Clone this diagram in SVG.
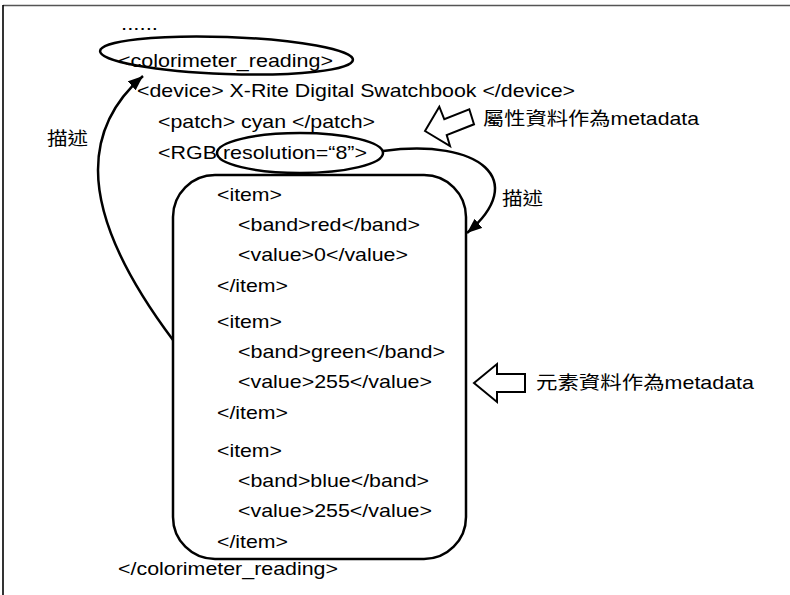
<svg xmlns="http://www.w3.org/2000/svg" width="790" height="595" viewBox="0 0 790 595">
  <style>
    .t { font-family: "Liberation Sans", "Noto Sans CJK TC", Arial, sans-serif; font-size: 18.5px; fill: #000; }
    .cjk { font-family: "Noto Sans CJK TC", "Liberation Sans", sans-serif; font-size: 18.5px; fill: #000; }
    .ln { fill: none; stroke: #000; stroke-width: 2.5; }
    .hol { fill: #fff; stroke: #000; stroke-width: 2; stroke-linejoin: miter; }
  </style>
  <defs>
    <marker id="ah" markerUnits="userSpaceOnUse" markerWidth="16" markerHeight="12" refX="15" refY="6" orient="auto">
      <path d="M0,0 L15,6 L0,12 z" fill="#000"/>
    </marker>
  </defs>
  <rect width="790" height="595" fill="#fff"/>
  <g id="frame">
    <line x1="3" y1="5.5" x2="790" y2="5.5" stroke="#555" stroke-width="1.6"/>
    <line x1="3" y1="5" x2="3" y2="595" stroke="#000" stroke-width="1.6"/>
  </g>

  <g id="xml-text">
    <text class="t" x="121" y="30" textLength="37" lengthAdjust="spacingAndGlyphs">......</text>
    <text class="t" x="118" y="67" textLength="215" lengthAdjust="spacingAndGlyphs">&lt;colorimeter_reading&gt;</text>
    <text class="t" x="137" y="97" textLength="438" lengthAdjust="spacingAndGlyphs">&lt;device&gt; X-Rite Digital Swatchbook &lt;/device&gt;</text>
    <text class="t" x="158" y="128" textLength="217" lengthAdjust="spacingAndGlyphs">&lt;patch&gt; cyan &lt;/patch&gt;</text>
    <text class="t" x="158" y="159" textLength="209" lengthAdjust="spacingAndGlyphs">&lt;RGB resolution=“8”&gt;</text>
    <text class="t" x="118" y="575" textLength="220" lengthAdjust="spacingAndGlyphs">&lt;/colorimeter_reading&gt;</text>
  </g>

  <g id="items-box">
    <rect x="173" y="175" width="293" height="384" rx="42" ry="42" class="ln"/>
    <text class="t" x="217" y="201" textLength="65" lengthAdjust="spacingAndGlyphs">&lt;item&gt;</text>
    <text class="t" x="238" y="231" textLength="182" lengthAdjust="spacingAndGlyphs">&lt;band&gt;red&lt;/band&gt;</text>
    <text class="t" x="238" y="261" textLength="170" lengthAdjust="spacingAndGlyphs">&lt;value&gt;0&lt;/value&gt;</text>
    <text class="t" x="217" y="292" textLength="71" lengthAdjust="spacingAndGlyphs">&lt;/item&gt;</text>
    <text class="t" x="217" y="328" textLength="65" lengthAdjust="spacingAndGlyphs">&lt;item&gt;</text>
    <text class="t" x="238" y="358" textLength="207" lengthAdjust="spacingAndGlyphs">&lt;band&gt;green&lt;/band&gt;</text>
    <text class="t" x="238" y="388" textLength="194" lengthAdjust="spacingAndGlyphs">&lt;value&gt;255&lt;/value&gt;</text>
    <text class="t" x="217" y="419" textLength="71" lengthAdjust="spacingAndGlyphs">&lt;/item&gt;</text>
    <text class="t" x="217" y="457" textLength="65" lengthAdjust="spacingAndGlyphs">&lt;item&gt;</text>
    <text class="t" x="238" y="487" textLength="191" lengthAdjust="spacingAndGlyphs">&lt;band&gt;blue&lt;/band&gt;</text>
    <text class="t" x="238" y="517" textLength="194" lengthAdjust="spacingAndGlyphs">&lt;value&gt;255&lt;/value&gt;</text>
    <text class="t" x="217" y="548" textLength="71" lengthAdjust="spacingAndGlyphs">&lt;/item&gt;</text>
  </g>

  <g id="ellipse-colorimeter">
    <ellipse cx="226.5" cy="55.5" rx="126.5" ry="18.5" transform="rotate(2 226.5 55.5)" class="ln"/>
  </g>
  <g id="ellipse-resolution">
    <ellipse cx="300" cy="153" rx="83" ry="20" class="ln"/>
  </g>

  <g id="connectors">
    <path class="ln" d="M173,340 Q98,240 98,170 Q98,115 143,76" marker-end="url(#ah)"/>
    <path class="ln" d="M383,151 C480,138 530,180 467,233" marker-end="url(#ah)"/>
  </g>

  <g id="label-describe-left">
    <text class="cjk" x="47" y="145" textLength="41" lengthAdjust="spacingAndGlyphs">描述</text>
  </g>
  <g id="label-describe-right">
    <text class="cjk" x="502" y="205" textLength="41" lengthAdjust="spacingAndGlyphs">描述</text>
  </g>

  <g id="attr-metadata">
    <polygon class="hol" points="425,131 439.3,106.7 444.3,119.3 469.3,109.3 474,124.3 446.7,135 450,146"/>
    <text class="t" x="483" y="125" textLength="216" lengthAdjust="spacingAndGlyphs">屬性資料作為metadata</text>
  </g>
  <g id="element-metadata">
    <polygon class="hol" points="474,383 497,364 497,374 525,374 525,392 497,392 497,402"/>
    <text class="t" x="536" y="389" textLength="218" lengthAdjust="spacingAndGlyphs">元素資料作為metadata</text>
  </g>
</svg>
